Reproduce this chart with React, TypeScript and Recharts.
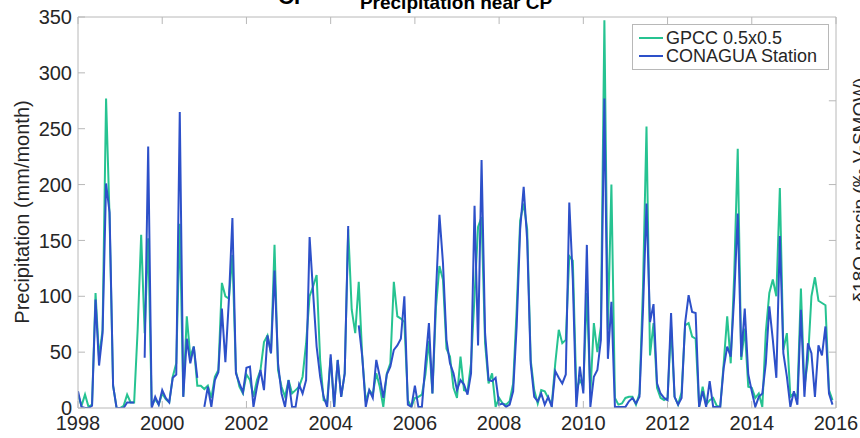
import {
  LineChart,
  Line,
  XAxis,
  YAxis,
  Legend,
  CartesianGrid,
  ReferenceLine,
} from "recharts";

const startYear = 1998;
const yearTicks = [1998, 2000, 2002, 2004, 2006, 2008, 2010, 2012, 2014, 2016];
const precipTicks = [0, 50, 100, 150, 200, 250, 300, 350];
const rightTicks = [50, 100, 150, 200, 275];
const seriesOrder = ["GPCC 0.5x0.5", "CONAGUA Station"];

// monthly values, Jan 1998 .. Dec 2015 (mm/month)
const gpcc = [
  12, 2, 12, 1, 3, 103, 45, 70, 277, 170, 20, 0,
  0, 2, 12, 5, 5, 70, 155, 67, 152, 2, 8, 3,
  13, 8, 5, 28, 40, 165, 10, 82, 46, 55, 20, 20,
  17, 20, 9, 28, 34, 112, 100, 98, 137, 33, 19, 13,
  30, 25, 10, 25, 34, 59, 65, 49, 146, 34, 19, 10,
  25, 13, 16, 19, 28, 58, 100, 109, 119, 43, 7, 6,
  45, 1, 43, 10, 31, 160, 88, 67, 113, 46, 6, 16,
  12, 31, 19, 1, 31, 40, 113, 82, 80, 77, 7, 1,
  9, 10, 12, 30, 60, 13, 90, 127, 115, 53, 46, 18,
  9, 46, 16, 15, 40, 100, 162, 171, 58, 22, 31, 1,
  9, 4, 3, 6, 22, 88, 168, 183, 160, 43, 16, 4,
  16, 15, 9, 3, 40, 70, 58, 61, 136, 132, 16, 25,
  19, 103, 13, 76, 50, 73, 347, 70, 200, 9, 3, 4,
  9, 10, 10, 3, 13, 108, 252, 47, 76, 18, 9, 7,
  9, 73, 10, 3, 14, 74, 76, 64, 62, 1, 19, 3,
  7, 9, 2, 1, 40, 82, 40, 120, 232, 43, 71, 19,
  18, 9, 13, 1, 68, 103, 115, 100, 197, 52, 67, 10,
  13, 10, 107, 19, 43, 100, 117, 96, 94, 92, 16, 7,
];

const conagua = [
  15, 1, 0, 0, 2, 97, 38, 67, 201, 175, 20, 0,
  0, 0, 5, 5, 5, null, null, 45, 234, 0, 10, 3,
  16, 9, 5, 27, 30, 265, 10, 62, 40, 55, 27, null,
  1, 19, 1, 25, 32, 89, 41, 97, 170, 31, 22, 14,
  36, 37, 1, 19, 34, 16, 65, 49, 123, 40, 13, 1,
  25, 1, 1, 21, 13, 25, 153, 103, 55, 28, 10, 1,
  48, 1, 43, 10, 31, 163, null, null, 74, 46, 1, 16,
  9, 43, 28, 9, 30, 37, 52, 56, 62, 100, 3, 1,
  20, 1, 1, 40, 76, 13, 103, 173, 130, 61, 40, 31,
  16, 25, 21, 12, 31, 181, 56, 222, 67, 25, 24, 27,
  3, 4, 1, 3, 15, 73, 160, 198, 150, 40, 10, 6,
  13, 3, 10, 1, 33, 27, 22, 30, 184, 115, 1, 37,
  13, 146, 1, 28, 34, 61, 277, 44, 95, 1, 1, 1,
  1, 6, 9, 4, 10, 88, 183, 77, 93, 22, 13, 9,
  7, 85, 10, 3, 9, 76, 101, 86, 85, 1, 15, 1,
  24, 1, 1, 1, 36, 55, 46, 100, 174, 46, 89, 30,
  15, 1, 10, 13, 40, 91, 61, 27, 154, 49, 28, 1,
  15, 3, 88, 10, 58, 49, 10, 56, 47, 73, 13, 3,
];

const data = gpcc.map((v, i) => ({
  t: startYear + i / 12,
  gpcc: v,
  conagua: conagua[i],
}));

const xMin = 1998;
const xMax = 2016;
const yMax = 350;
// inward tick length (~7px) in data units for the top / right edges
const tickLenY = 6.3;
const tickLenX = 0.17;

const font = "'Liberation Sans', Arial, Helvetica, sans-serif";
const axisGray = "#b8b8b8";
const tickText = { fontSize: 20, fill: "#262626", fontFamily: font };

const LegendBox = ({ payload }: any) => {
  const items = [...(payload || [])]
    .filter((p: any) => seriesOrder.includes(p.value))
    .sort((a: any, b: any) => seriesOrder.indexOf(a.value) - seriesOrder.indexOf(b.value));
  return (
    <div
      style={{
        border: `1px solid ${axisGray}`,
        background: "#fff",
        padding: "4px 6px",
        width: 183,
        fontFamily: font,
        fontSize: 18,
        lineHeight: "18px",
        color: "#262626",
        textAlign: "left",
      }}
    >
      {items.map((p: any) => (
        <div key={p.value} style={{ display: "flex", alignItems: "center", height: 18 }}>
          <span
            style={{ width: 24, height: 2, background: p.color, marginRight: 3, display: "inline-block" }}
          />
          <span style={{ whiteSpace: "nowrap" }}>{p.value}</span>
        </div>
      ))}
    </div>
  );
};

export default function App() {
  return (
    <div style={{ position: "absolute", left: 0, top: 0, width: 860, height: 438, background: "#fff" }}>
      <LineChart width={860} height={438} data={data} margin={{ top: 17, right: 24, bottom: 0, left: 8 }}>
        {/* top and right edges of the box */}
        <CartesianGrid
          horizontalValues={[yMax]}
          verticalValues={[xMax]}
          stroke={axisGray}
          strokeWidth={1}
        />
        <XAxis
          dataKey="t"
          type="number"
          domain={[xMin, xMax]}
          ticks={yearTicks}
          allowDataOverflow
          height={30}
          stroke={axisGray}
          tickSize={-7}
          tickMargin={15}
          tick={tickText}
        />
        <YAxis
          domain={[0, yMax]}
          ticks={precipTicks}
          width={70}
          stroke={axisGray}
          tickSize={-7}
          tickMargin={13}
          tick={tickText}
          allowDataOverflow
        />
        {yearTicks.map((yr) => (
          <ReferenceLine
            key={"top" + yr}
            segment={[
              { x: yr, y: yMax },
              { x: yr, y: yMax - tickLenY },
            ]}
            stroke={axisGray}
            ifOverflow="visible"
          />
        ))}
        {rightTicks.map((v) => (
          <ReferenceLine
            key={"right" + v}
            segment={[
              { x: xMax, y: v },
              { x: xMax - tickLenX, y: v },
            ]}
            stroke={axisGray}
            ifOverflow="visible"
          />
        ))}
        <Legend
          layout="horizontal"
          verticalAlign="middle"
          align="center"
          content={<LegendBox />}
          wrapperStyle={{ position: "absolute", top: 24, left: 632, width: "auto", height: "auto" }}
        />
        <Line
          type="linear"
          dataKey="gpcc"
          name="GPCC 0.5x0.5"
          stroke="#26c391"
          strokeWidth={2}
          dot={false}
          isAnimationActive={false}
        />
        <Line
          type="linear"
          dataKey="conagua"
          name="CONAGUA Station"
          stroke="#2d50c9"
          strokeWidth={2}
          dot={false}
          isAnimationActive={false}
        />
      </LineChart>
      <svg
        width={860}
        height={438}
        style={{ position: "absolute", left: 0, top: 0, pointerEvents: "none", fontFamily: font }}
      >
        <text x={278} y={4} fontSize={22} fontWeight="bold" fill="#000">
          CP
        </text>
        <text x={456} y={9} fontSize={19} fontWeight="bold" fill="#000" textAnchor="middle">
          Precipitation near CP
        </text>
        <text
          transform="translate(29,212) rotate(-90)"
          fontSize={20}
          fill="#262626"
          textAnchor="middle"
        >
          Precipitation (mm/month)
        </text>
        <text
          transform="translate(866,190) rotate(-90)"
          fontSize={19}
          fill="#262626"
          textAnchor="middle"
        >
          δ18O precip (‰ V-SMOW)
        </text>
      </svg>
    </div>
  );
}
